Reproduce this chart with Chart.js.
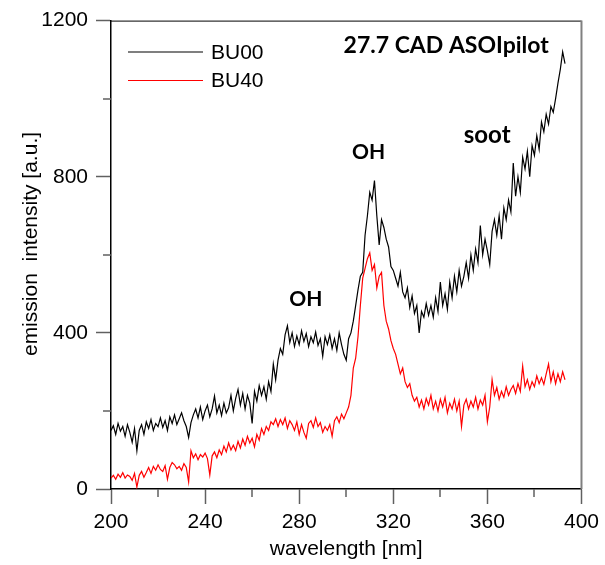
<!DOCTYPE html>
<html>
<head>
<meta charset="utf-8">
<script src="https://cdn.jsdelivr.net/npm/chart.js@4.4.0/dist/chart.umd.min.js"></script>
<style>
  html, body { margin: 0; padding: 0; background: #fff; }
</style>
</head>
<body>
<canvas id="spec" width="605" height="565"></canvas>
<script>
// emission spectra, one value per nm starting at 200 nm
const bu00 = [
  150, 162, 140, 168, 148, 160, 135, 165, 145, 120,
  155,  98, 150, 165, 140, 172, 155, 178, 150, 168,
  160, 182, 158, 175, 150, 185, 168, 190, 165, 180,
  195, 175, 160, 132, 170, 190, 205, 182, 210, 178,
  200, 215, 185, 205, 238, 195, 215, 188, 220, 195,
  208, 240, 200, 232, 255, 215, 245, 205, 240, 220,
  168, 250, 225, 265, 240, 262, 230, 275, 250, 320,
  280, 330, 360, 345, 395, 418, 375, 400, 365, 392,
  370, 405, 378, 398, 365, 390, 375, 402, 368, 385,
  340, 390, 370, 395, 360, 385, 355, 400, 370, 345,
  330, 385, 400, 430, 470, 510, 545, 555, 650, 700,
  760, 740, 790, 700, 625, 690, 670, 640, 620, 570,
  560, 540, 520, 555, 505, 490, 515, 465, 495, 450,
  470, 400, 455, 440, 475, 445, 470, 440, 490, 455,
  530, 470, 500, 460, 530, 490, 545, 505, 560, 520,
  545, 580, 540, 600, 560, 615, 580, 675, 600, 640,
  610, 575, 660, 690, 650, 700, 640, 720, 690, 740,
  710, 835, 750, 800, 760, 850, 820, 865, 800, 880,
  855, 905, 870, 940, 915, 960, 935, 980, 965, 1000,
  1040, 1075, 1120, 1090
];
const bu40 = [
   28,  35,  25,  38,  30,  42,  28,  36,  32,  22,
   40,   5,  35,  45,  30,  42,  55,  40,  58,  48,
   62,  50,  45,  60,  25,  55,  68,  62,  52,  58,
   48,  65,  55,  18,  98,  80,  90,  75,  88,  82,
   92,  78,  36,  85,  95,  80, 100,  88, 110,  95,
  118, 100, 112,  98, 122, 105, 128, 112, 135, 118,
  130, 108, 140, 125, 155, 140, 160, 150, 172, 165,
  180, 160, 178, 165, 182, 155, 175, 165, 150, 172,
  140, 165, 145, 130, 168, 175, 158, 182, 160, 170,
  145, 160, 150, 165, 135, 175, 185, 170, 192, 180,
  195, 210, 240, 310, 335, 390, 470, 540, 565, 590,
  605, 560, 575, 515, 545, 555, 470, 430, 410, 380,
  360, 345, 320, 295, 310, 275, 260, 270, 240, 225,
  235, 210, 228, 205, 232, 215, 240, 205, 225, 200,
  230, 210, 235, 195, 220, 205, 230, 200, 225, 160,
  215, 230, 205, 225, 210, 235, 205, 228, 215, 240,
  172, 210, 280, 240, 260, 230, 250, 235, 262, 240,
  255, 265, 245, 270, 250, 315, 262, 280, 255, 275,
  262, 290, 270, 285, 268, 295, 320, 275, 300, 270,
  295, 275, 300, 280
];
const wavelength = bu00.map((_, i) => 200 + i);

const seriesNames = ['BU00', 'BU40'];
const seriesColors = ['#000000', '#ff0000'];

const xMinor = [220, 260, 300, 340, 380];
const yMinor = [200, 600, 1000];

// text labels inside the plot (data coordinates)
const notes = [
  { text: '27.7 CAD ASOIpilot', x: 342.5, y: 1137, size: 23 },
  { text: 'OH', x: 309.5, y: 863, size: 21 },
  { text: 'OH', x: 282.8, y: 485, size: 21 },
  { text: 'soot', x: 359.9, y: 905, size: 24 }
];

const toPoints = vals => vals.map((v, i) => ({ x: wavelength[i], y: v }));

const tickFont = { family: 'Liberation Sans, Arial, sans-serif', size: 21 };
const titleFont = { family: 'Liberation Sans, Arial, sans-serif', size: 21 };

// Rahmen, Nebenstriche, Legende, Beschriftungen
const decor = {
  id: 'decor',
  afterDraw(chart) {
    const { ctx, chartArea: a, scales: { x, y } } = chart;
    ctx.save();

    // top + right frame
    ctx.strokeStyle = '#000';
    ctx.lineWidth = 1;
    ctx.beginPath();
    ctx.moveTo(a.left, a.top + 0.5);
    ctx.lineTo(a.right, a.top + 0.5);
    ctx.stroke();
    ctx.strokeStyle = '#808080';
    ctx.lineWidth = 2;
    ctx.beginPath();
    ctx.moveTo(a.right, a.top);
    ctx.lineTo(a.right, a.bottom);
    ctx.stroke();

    // minor ticks
    ctx.strokeStyle = '#606060';
    ctx.lineWidth = 1.5;
    ctx.beginPath();
    yMinor.forEach(v => {
      const py = Math.round(y.getPixelForValue(v));
      ctx.moveTo(a.left - 8, py);
      ctx.lineTo(a.left, py);
    });
    xMinor.forEach(v => {
      const px = Math.round(x.getPixelForValue(v));
      ctx.moveTo(px, a.bottom);
      ctx.lineTo(px, a.bottom + 8);
    });
    ctx.stroke();

    // legend
    ctx.font = '21px Liberation Sans, Arial, sans-serif';
    ctx.textBaseline = 'middle';
    ctx.textAlign = 'left';
    chart.data.datasets.forEach((ds, i) => {
      const ly = 52 + i * 28.5;
      ctx.strokeStyle = ds.borderColor;
      ctx.lineWidth = 1.1;
      ctx.beginPath();
      ctx.moveTo(128, ly);
      ctx.lineTo(203, ly);
      ctx.stroke();
      ctx.fillStyle = '#000';
      ctx.fillText(ds.label, 211, ly + 1);
    });

    // annotations
    ctx.textAlign = 'center';
    ctx.fillStyle = '#000';
    notes.forEach(n => {
      ctx.font = 'bold ' + n.size + 'px Lato, sans-serif';
      ctx.fillText(n.text, x.getPixelForValue(n.x), y.getPixelForValue(n.y));
    });

    // y title
    ctx.font = '21px Liberation Sans, Arial, sans-serif';
    ctx.translate(31, 244);
    ctx.rotate(-Math.PI / 2);
    ctx.fillText('emission  intensity [a.u.]', 0, 0);

    ctx.restore();
  }
};

new Chart(document.getElementById('spec'), {
  type: 'line',
  data: {
    datasets: seriesNames.map((name, i) => ({
      label: name,
      data: toPoints([bu00, bu40][i]),
      borderColor: seriesColors[i],
      borderWidth: 1.2,
      pointRadius: 0,
      tension: 0,
      fill: false
    }))
  },
  options: {
    responsive: false,
    animation: false,
    layout: { padding: { left: 0, top: 17, right: 18, bottom: 0 } },
    plugins: { legend: { display: false }, tooltip: { enabled: false } },
    scales: {
      x: {
        type: 'linear',
        min: 200,
        max: 400,
        ticks: { stepSize: 40, color: '#000', font: tickFont, padding: 6, maxRotation: 0, callback: v => String(v) },
        grid: { drawOnChartArea: false, tickLength: 15, tickColor: '#606060', tickWidth: 1.5 },
        border: { color: '#000', width: 1.5 },
        title: {
          display: true,
          text: 'wavelength [nm]',
          color: '#000',
          font: titleFont,
          padding: { top: 0, bottom: 3 }
        },
        afterFit: s => { s.height = 76; }
      },
      y: {
        min: 0,
        max: 1200,
        ticks: { stepSize: 400, color: '#000', font: tickFont, padding: 8, callback: v => String(v) },
        grid: { drawOnChartArea: false, tickLength: 15, tickColor: '#606060', tickWidth: 1.5 },
        border: { color: '#000', width: 1.5 },
        afterFit: s => { s.width = 111; }
      }
    }
  },
  plugins: [decor]
});
</script>
</body>
</html>
